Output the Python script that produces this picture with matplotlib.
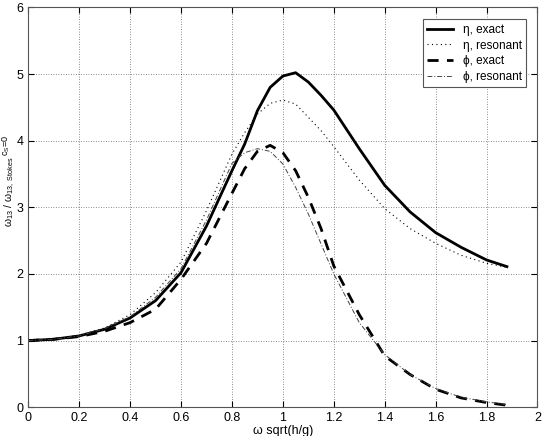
import matplotlib
matplotlib.use("Agg")
import matplotlib.pyplot as plt

plt.rcParams['font.family'] = ['Liberation Sans', 'DejaVu Sans']
plt.rcParams['mathtext.fontset'] = 'custom'
plt.rcParams['mathtext.rm'] = 'Liberation Sans'
plt.rcParams['mathtext.it'] = 'Liberation Sans'

# frekwencja bezwymiarowa
x = [0.0, 0.1, 0.2, 0.3, 0.4, 0.5, 0.6, 0.7, 0.8, 0.85, 0.9, 0.95, 1.0,
     1.05, 1.1, 1.15, 1.2, 1.3, 1.4, 1.5, 1.6, 1.7, 1.8, 1.88]

eta_exact = [1.00, 1.02, 1.07, 1.17, 1.34, 1.60, 2.02, 2.72, 3.55, 3.95, 4.45,
             4.80, 4.97, 5.02, 4.88, 4.68, 4.46, 3.88, 3.33, 2.93, 2.62, 2.40,
             2.21, 2.11]
eta_res = [1.00, 1.02, 1.08, 1.19, 1.39, 1.72, 2.18, 2.95, 3.80, 4.12, 4.40,
           4.56, 4.61, 4.55, 4.35, 4.15, 3.91, 3.41, 2.98, 2.68, 2.46, 2.28,
           2.16, 2.10]
phi_exact = [1.00, 1.02, 1.06, 1.14, 1.27, 1.47, 1.92, 2.46, 3.21, 3.58, 3.84,
             3.93, 3.82, 3.55, 3.15, 2.68, 2.12, 1.39, 0.77, 0.49, 0.27, 0.14,
             0.07, 0.03]
phi_res = [1.00, 1.02, 1.07, 1.18, 1.36, 1.65, 2.08, 2.81, 3.66, 3.82, 3.88,
           3.84, 3.65, 3.30, 2.90, 2.45, 2.00, 1.27, 0.79, 0.49, 0.28, 0.15,
           0.08, 0.04]

fig = plt.figure(figsize=(5.44, 4.36), dpi=100)
ax = fig.add_axes([0.052, 0.066, 0.936, 0.917])

ax.plot(x, eta_exact, color='black', lw=2.0, ls='-', label='η, exact')
ax.plot(x, eta_res, color='black', lw=0.8, ls=(0, (1, 3)), label='η, resonant')
ax.plot(x, phi_exact, color='black', lw=2.0, ls=(0, (4, 3)), label='ϕ, exact')
ax.plot(x, phi_res, color='#444444', lw=0.7, ls=(0, (5, 2, 1, 2)), label='ϕ, resonant')

ax.set_xlim(0, 2)
ax.set_ylim(0, 6)
ax.set_xticks([0, 0.2, 0.4, 0.6, 0.8, 1, 1.2, 1.4, 1.6, 1.8, 2])
ax.set_xticklabels(['0', '0.2', '0.4', '0.6', '0.8', '1', '1.2', '1.4', '1.6', '1.8', '2'])
ax.set_yticks([0, 1, 2, 3, 4, 5, 6])
ax.tick_params(direction='in', top=True, right=True, labelsize=9, length=4)
ax.grid(True, ls=(0, (1, 2)), color='black', lw=0.6, alpha=0.6)
for s in ax.spines.values():
    s.set_color('#555555')

ax.set_xlabel('ω sqrt(h/g)', fontsize=9, labelpad=1)

# etykieta osi y: glowny tekst + indeks gorny osobno
W, H = 544, 436
t1 = fig.text(10 / W, 1 - 192 / H, r'$\omega_{13}\ /\ \omega_{13,\ \mathrm{Stokes}}$',
              rotation=90, ha='center', va='center', fontsize=7.5)
fig.canvas.draw()
bb = t1.get_window_extent()
t2 = fig.text(1 / W, (bb.y1 + 1) / H, r'$c_S\!=\!0$',
              rotation=90, ha='left', va='bottom', fontsize=6.5)

leg = ax.legend(loc='upper right', fontsize=8.5, fancybox=False, framealpha=1,
                edgecolor='#555555', handlelength=2.2, borderpad=0.4,
                labelspacing=0.3, bbox_to_anchor=(0.99, 0.985))
leg.get_frame().set_linewidth(0.8)

fig.savefig('out.png', dpi=100)
